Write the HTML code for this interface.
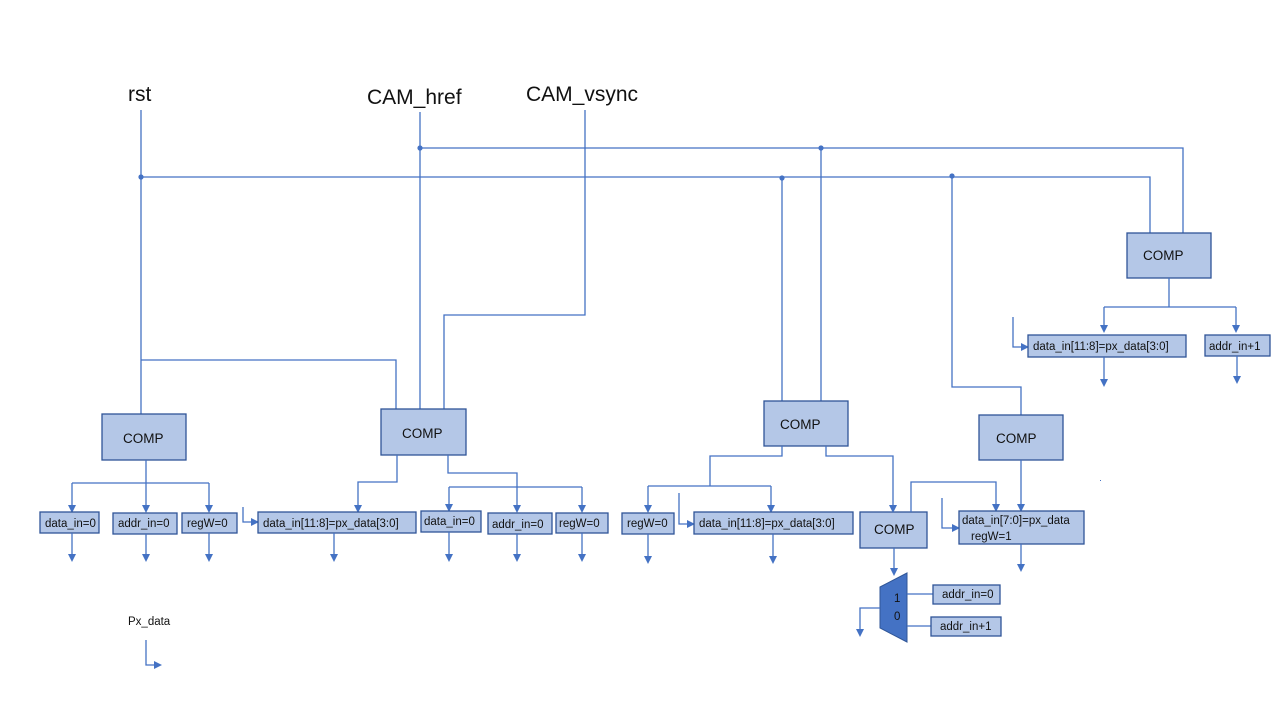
<!DOCTYPE html>
<html><head><meta charset="utf-8"><style>
html,body{margin:0;padding:0;background:#fff;}
svg{display:block;font-family:"Liberation Sans",sans-serif;}
.b{fill:#b4c7e7;stroke:#2f5597;stroke-width:1.3;}
.w{fill:none;stroke:#4472c4;stroke-width:1.3;}
.a{fill:none;stroke:#4472c4;stroke-width:1.3;marker-end:url(#ar);}
.t{font-size:11.5px;fill:#111;}
.c{font-size:13.5px;fill:#111;}
.h{font-size:21px;fill:#111;}
</style></head><body>
<svg width="1280" height="720" viewBox="0 0 1280 720">
<defs><marker id="ar" markerWidth="8" markerHeight="8" refX="6" refY="4" orient="auto" markerUnits="userSpaceOnUse"><path d="M0,0 L8,4 L0,8 z" fill="#4472c4"/></marker></defs>

<text class="h" x="128" y="101">rst</text>
<text class="h" x="367" y="104">CAM_href</text>
<text class="h" x="526" y="101">CAM_vsync</text>

<path class="w" d="M141,110 V414 M141,177 H1150 V233 M141,360 H396 V409"/>
<path class="w" d="M420,112 V409 M420,148 H1183 V233"/>
<path class="w" d="M585,110 V315 H444 V409"/>
<path class="w" d="M782,177 V401 M821,148 V401 M952,177 V387 H1021 V415"/>
<circle cx="141" cy="177" r="2.6" fill="#4472c4"/>
<circle cx="420" cy="148" r="2.6" fill="#4472c4"/>
<circle cx="782" cy="178" r="2.6" fill="#4472c4"/>
<circle cx="821" cy="148" r="2.6" fill="#4472c4"/>
<circle cx="952" cy="176" r="2.6" fill="#4472c4"/>

<rect class="b" x="102" y="414" width="84" height="46"/><text class="c" x="123" y="443">COMP</text>
<rect class="b" x="381" y="409" width="85" height="46"/><text class="c" x="402" y="438">COMP</text>
<rect class="b" x="764" y="401" width="84" height="45"/><text class="c" x="780" y="429">COMP</text>
<rect class="b" x="979" y="415" width="84" height="45"/><text class="c" x="996" y="443">COMP</text>
<rect class="b" x="1127" y="233" width="84" height="45"/><text class="c" x="1143" y="260">COMP</text>
<rect class="b" x="860" y="512" width="67" height="36"/><text class="c" x="874" y="534">COMP</text>

<path class="w" d="M146,460 V483 M72,483 H209"/>
<path class="a" d="M72,483 V511"/><path class="a" d="M146,483 V511"/><path class="a" d="M209,483 V511"/>
<rect class="b" x="40" y="512" width="59" height="21"/><text class="t" x="45" y="527">data_in=0</text>
<rect class="b" x="113" y="513" width="64" height="21"/><text class="t" x="118" y="527">addr_in=0</text>
<rect class="b" x="182" y="513" width="55" height="20"/><text class="t" x="187" y="527">regW=0</text>
<path class="a" d="M72,533 V560"/><path class="a" d="M146,534 V560"/><path class="a" d="M209,533 V560"/>

<path class="a" d="M243,507 V522 H257"/>
<path class="a" d="M397,455 V482 H358 V511"/>
<path class="a" d="M448,455 V473 H517 V511"/>
<path class="w" d="M449,487 H582"/>
<path class="a" d="M449,487 V510"/><path class="a" d="M582,487 V511"/>
<rect class="b" x="258" y="512" width="158" height="21"/><text class="t" x="263" y="527">data_in[11:8]=px_data[3:0]</text>
<rect class="b" x="421" y="511" width="60" height="21"/><text class="t" x="424" y="525">data_in=0</text>
<rect class="b" x="488" y="513" width="64" height="21"/><text class="t" x="492" y="528">addr_in=0</text>
<rect class="b" x="556" y="513" width="52" height="20"/><text class="t" x="559" y="527">regW=0</text>
<path class="a" d="M334,533 V560"/><path class="a" d="M449,532 V560"/><path class="a" d="M517,534 V560"/><path class="a" d="M582,533 V560"/>

<path class="w" d="M782,446 V456 H710 V486 M648,486 H771"/>
<path class="a" d="M648,486 V511"/><path class="a" d="M771,486 V511"/>
<path class="a" d="M826,446 V456 H893 V511"/>
<path class="a" d="M679,493 V524 H693"/>
<rect class="b" x="622" y="513" width="52" height="21"/><text class="t" x="627" y="527">regW=0</text>
<rect class="b" x="694" y="512" width="159" height="22"/><text class="t" x="699" y="527">data_in[11:8]=px_data[3:0]</text>
<path class="a" d="M648,534 V562"/><path class="a" d="M773,534 V562"/>

<path class="a" d="M911,512 V482 H996 V510"/>
<path class="a" d="M1021,460 V510"/>
<path class="a" d="M942,498 V528 H958"/>
<rect class="b" x="959" y="511" width="125" height="33"/>
<text class="t" x="962" y="524">data_in[7:0]=px_data</text>
<text class="t" x="971" y="540">regW=1</text>
<path class="a" d="M1021,544 V570"/>

<path class="a" d="M894,548 V574"/>
<polygon points="880,587 907,573 907,642 880,628" fill="#4472c4" stroke="#2f5597"/>
<text class="t" x="894" y="602" fill="#111">1</text>
<text class="t" x="894" y="620" fill="#111">0</text>
<path class="w" d="M907,594 H933 M907,626 H931"/>
<rect class="b" x="933" y="585" width="67" height="19"/><text class="t" x="942" y="598">addr_in=0</text>
<rect class="b" x="931" y="617" width="70" height="19"/><text class="t" x="940" y="630">addr_in+1</text>
<path class="a" d="M880,608 H860 V635"/>

<path class="w" d="M1169,278 V307 M1104,307 H1236"/>
<path class="a" d="M1104,307 V331"/><path class="a" d="M1236,307 V331"/>
<path class="a" d="M1013,317 V347 H1027"/>
<rect class="b" x="1028" y="335" width="158" height="22"/><text class="t" x="1033" y="350">data_in[11:8]=px_data[3:0]</text>
<rect class="b" x="1205" y="335" width="65" height="21"/><text class="t" x="1209" y="350">addr_in+1</text>
<path class="a" d="M1104,357 V385"/><path class="a" d="M1237,356 V382"/>

<text class="t" x="128" y="625">Px_data</text>
<path class="a" d="M146,640 V665 H160"/>
<rect x="1100" y="480" width="1" height="1" fill="#4472c4"/>
</svg>
</body></html>
